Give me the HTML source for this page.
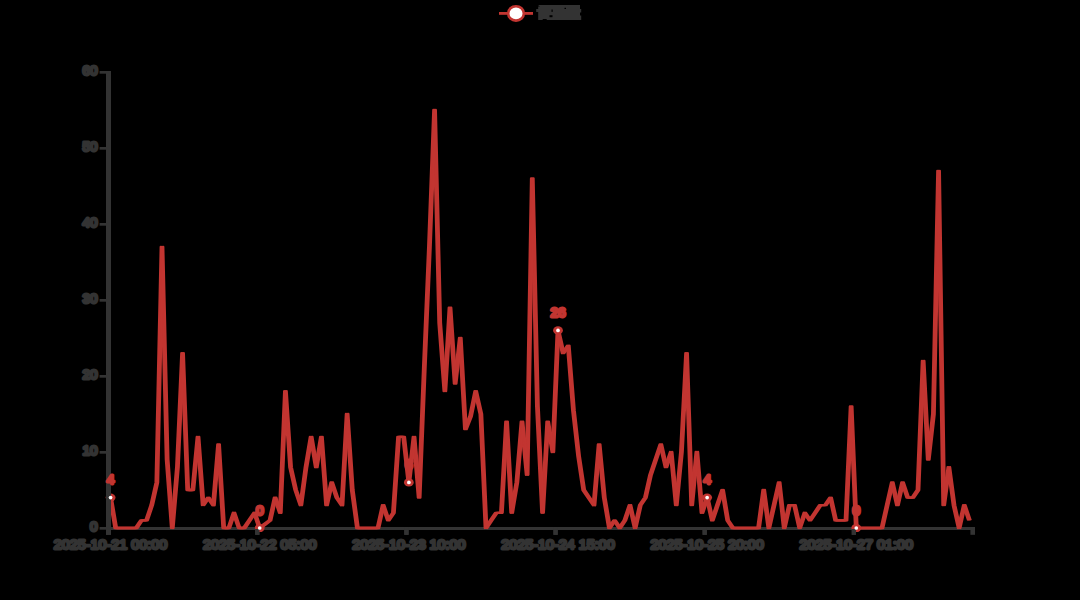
<!DOCTYPE html>
<html><head><meta charset="utf-8"><title>chart</title>
<style>html,body{margin:0;padding:0;background:#000;overflow:hidden}svg{display:block}text{font-family:"Liberation Sans",sans-serif;font-size:13.5px;stroke-linejoin:round;stroke-linecap:round}</style></head><body>
<svg width="1080" height="600" viewBox="0 0 1080 600">
<rect width="1080" height="600" fill="#000"/>
<g fill="#333333">
<rect x="106" y="71" width="5" height="463.8"/>
<rect x="106" y="527" width="869" height="3"/>
<rect x="255.14" y="527" width="4.3" height="7.8"/>
<rect x="404.29" y="527" width="4.3" height="7.8"/>
<rect x="553.43" y="527" width="4.3" height="7.8"/>
<rect x="702.57" y="527" width="4.3" height="7.8"/>
<rect x="851.71" y="527" width="4.3" height="7.8"/>
<rect x="970.4" y="527" width="4.6" height="7.8"/>
<rect x="99.6" y="527.00" width="7" height="2.7"/>
<rect x="99.6" y="451.00" width="7" height="2.7"/>
<rect x="99.6" y="375.00" width="7" height="2.7"/>
<rect x="99.6" y="299.00" width="7" height="2.7"/>
<rect x="99.6" y="223.00" width="7" height="2.7"/>
<rect x="99.6" y="147.00" width="7" height="2.7"/>
<rect x="99.6" y="71.00" width="7" height="2.7"/>
</g>
<g fill="#333333" stroke="#333333" stroke-width="3" text-anchor="end">
<text x="97.6" y="530.80">0</text>
<text x="97.6" y="454.80">10</text>
<text x="97.6" y="378.80">20</text>
<text x="97.6" y="302.80">30</text>
<text x="97.6" y="226.80">40</text>
<text x="97.6" y="150.80">50</text>
<text x="97.6" y="74.80">60</text>
</g>
<g fill="#333333" stroke="#333333" stroke-width="2.8" text-anchor="middle">
<text x="110.57" y="548.7" textLength="113.4" lengthAdjust="spacingAndGlyphs">2025-10-21 00:00</text>
<text x="259.71" y="548.7" textLength="113.4" lengthAdjust="spacingAndGlyphs">2025-10-22 05:00</text>
<text x="408.86" y="548.7" textLength="113.4" lengthAdjust="spacingAndGlyphs">2025-10-23 10:00</text>
<text x="558.00" y="548.7" textLength="113.4" lengthAdjust="spacingAndGlyphs">2025-10-24 15:00</text>
<text x="707.14" y="548.7" textLength="113.4" lengthAdjust="spacingAndGlyphs">2025-10-25 20:00</text>
<text x="856.29" y="548.7" textLength="113.4" lengthAdjust="spacingAndGlyphs">2025-10-27 01:00</text>
</g>
<polyline transform="translate(-1.25,0)" points="110.57,497.60 115.71,528.00 120.86,528.00 126.00,528.00 131.14,528.00 136.29,528.00 141.43,520.40 146.57,520.40 151.71,505.20 156.86,482.40 162.00,246.80 167.14,459.60 172.29,528.00 177.43,467.20 182.57,353.20 187.71,490.00 192.86,490.00 198.00,436.80 203.14,505.20 208.29,497.60 213.43,505.20 218.57,444.40 223.71,528.00 228.86,528.00 234.00,512.80 239.14,528.00 244.29,528.00 249.43,520.40 254.57,512.80 259.71,528.00 264.86,524.20 270.00,520.40 275.14,497.60 280.29,512.80 285.43,391.20 290.57,467.20 295.71,490.00 300.86,505.20 306.00,467.20 311.14,436.80 316.29,467.20 321.43,436.80 326.57,505.20 331.71,482.40 336.86,497.60 342.00,505.20 347.14,414.00 352.29,490.00 357.43,528.00 362.57,528.00 367.71,528.00 372.86,528.00 378.00,528.00 383.14,505.20 388.29,520.40 393.43,512.80 398.57,436.80 403.71,436.80 408.86,482.40 414.00,436.80 419.14,497.60 424.29,368.40 429.43,246.80 434.57,110.00 439.71,322.80 444.86,391.20 450.00,307.60 455.14,383.60 460.29,338.00 465.43,429.20 470.57,416.28 475.71,391.20 480.86,414.00 486.00,528.00 491.14,520.40 496.29,512.80 501.43,512.80 506.57,421.60 511.71,512.80 516.86,482.40 522.00,421.60 527.14,474.80 532.29,178.40 537.43,406.40 542.57,512.80 547.71,421.60 552.86,452.00 558.00,330.40 563.14,353.20 568.29,345.60 573.43,410.20 578.57,455.80 583.71,490.00 588.86,497.60 594.00,505.20 599.14,444.40 604.29,497.60 609.43,528.00 614.57,520.40 619.71,528.00 624.86,520.40 630.00,505.20 635.14,528.00 640.29,505.20 645.43,497.60 650.57,474.80 655.71,459.60 660.86,444.40 666.00,467.20 671.14,452.00 676.29,505.20 681.43,452.00 686.57,353.20 691.71,505.20 696.86,452.00 702.00,512.80 707.14,497.60 712.29,520.40 717.43,505.20 722.57,490.00 727.71,520.40 732.86,528.00 738.00,528.00 743.14,528.00 748.29,528.00 753.43,528.00 758.57,528.00 763.71,490.00 768.86,528.00 774.00,505.20 779.14,482.40 784.29,528.00 789.43,505.20 794.57,505.20 799.71,528.00 804.86,512.80 810.00,520.40 815.14,512.80 820.29,505.20 825.43,505.20 830.57,497.60 835.71,520.40 840.86,520.40 846.00,520.40 851.14,406.40 856.29,528.00 861.43,528.00 866.57,528.00 871.71,528.00 876.86,528.00 882.00,528.00 887.14,505.20 892.29,482.40 897.43,505.20 902.57,482.40 907.71,497.60 912.86,497.60 918.00,490.00 923.14,360.80 928.29,459.60 933.43,414.00 938.57,170.80 943.71,505.20 948.86,467.20 954.00,505.20 959.14,528.00 964.29,505.20 969.43,520.40" fill="none" stroke="#c23531" stroke-width="2.3" stroke-linejoin="round" stroke-linecap="butt"/>
<polyline transform="translate(0,0)" points="110.57,497.60 115.71,528.00 120.86,528.00 126.00,528.00 131.14,528.00 136.29,528.00 141.43,520.40 146.57,520.40 151.71,505.20 156.86,482.40 162.00,246.80 167.14,459.60 172.29,528.00 177.43,467.20 182.57,353.20 187.71,490.00 192.86,490.00 198.00,436.80 203.14,505.20 208.29,497.60 213.43,505.20 218.57,444.40 223.71,528.00 228.86,528.00 234.00,512.80 239.14,528.00 244.29,528.00 249.43,520.40 254.57,512.80 259.71,528.00 264.86,524.20 270.00,520.40 275.14,497.60 280.29,512.80 285.43,391.20 290.57,467.20 295.71,490.00 300.86,505.20 306.00,467.20 311.14,436.80 316.29,467.20 321.43,436.80 326.57,505.20 331.71,482.40 336.86,497.60 342.00,505.20 347.14,414.00 352.29,490.00 357.43,528.00 362.57,528.00 367.71,528.00 372.86,528.00 378.00,528.00 383.14,505.20 388.29,520.40 393.43,512.80 398.57,436.80 403.71,436.80 408.86,482.40 414.00,436.80 419.14,497.60 424.29,368.40 429.43,246.80 434.57,110.00 439.71,322.80 444.86,391.20 450.00,307.60 455.14,383.60 460.29,338.00 465.43,429.20 470.57,416.28 475.71,391.20 480.86,414.00 486.00,528.00 491.14,520.40 496.29,512.80 501.43,512.80 506.57,421.60 511.71,512.80 516.86,482.40 522.00,421.60 527.14,474.80 532.29,178.40 537.43,406.40 542.57,512.80 547.71,421.60 552.86,452.00 558.00,330.40 563.14,353.20 568.29,345.60 573.43,410.20 578.57,455.80 583.71,490.00 588.86,497.60 594.00,505.20 599.14,444.40 604.29,497.60 609.43,528.00 614.57,520.40 619.71,528.00 624.86,520.40 630.00,505.20 635.14,528.00 640.29,505.20 645.43,497.60 650.57,474.80 655.71,459.60 660.86,444.40 666.00,467.20 671.14,452.00 676.29,505.20 681.43,452.00 686.57,353.20 691.71,505.20 696.86,452.00 702.00,512.80 707.14,497.60 712.29,520.40 717.43,505.20 722.57,490.00 727.71,520.40 732.86,528.00 738.00,528.00 743.14,528.00 748.29,528.00 753.43,528.00 758.57,528.00 763.71,490.00 768.86,528.00 774.00,505.20 779.14,482.40 784.29,528.00 789.43,505.20 794.57,505.20 799.71,528.00 804.86,512.80 810.00,520.40 815.14,512.80 820.29,505.20 825.43,505.20 830.57,497.60 835.71,520.40 840.86,520.40 846.00,520.40 851.14,406.40 856.29,528.00 861.43,528.00 866.57,528.00 871.71,528.00 876.86,528.00 882.00,528.00 887.14,505.20 892.29,482.40 897.43,505.20 902.57,482.40 907.71,497.60 912.86,497.60 918.00,490.00 923.14,360.80 928.29,459.60 933.43,414.00 938.57,170.80 943.71,505.20 948.86,467.20 954.00,505.20 959.14,528.00 964.29,505.20 969.43,520.40" fill="none" stroke="#c23531" stroke-width="2.3" stroke-linejoin="round" stroke-linecap="butt"/>
<polyline transform="translate(1.25,0)" points="110.57,497.60 115.71,528.00 120.86,528.00 126.00,528.00 131.14,528.00 136.29,528.00 141.43,520.40 146.57,520.40 151.71,505.20 156.86,482.40 162.00,246.80 167.14,459.60 172.29,528.00 177.43,467.20 182.57,353.20 187.71,490.00 192.86,490.00 198.00,436.80 203.14,505.20 208.29,497.60 213.43,505.20 218.57,444.40 223.71,528.00 228.86,528.00 234.00,512.80 239.14,528.00 244.29,528.00 249.43,520.40 254.57,512.80 259.71,528.00 264.86,524.20 270.00,520.40 275.14,497.60 280.29,512.80 285.43,391.20 290.57,467.20 295.71,490.00 300.86,505.20 306.00,467.20 311.14,436.80 316.29,467.20 321.43,436.80 326.57,505.20 331.71,482.40 336.86,497.60 342.00,505.20 347.14,414.00 352.29,490.00 357.43,528.00 362.57,528.00 367.71,528.00 372.86,528.00 378.00,528.00 383.14,505.20 388.29,520.40 393.43,512.80 398.57,436.80 403.71,436.80 408.86,482.40 414.00,436.80 419.14,497.60 424.29,368.40 429.43,246.80 434.57,110.00 439.71,322.80 444.86,391.20 450.00,307.60 455.14,383.60 460.29,338.00 465.43,429.20 470.57,416.28 475.71,391.20 480.86,414.00 486.00,528.00 491.14,520.40 496.29,512.80 501.43,512.80 506.57,421.60 511.71,512.80 516.86,482.40 522.00,421.60 527.14,474.80 532.29,178.40 537.43,406.40 542.57,512.80 547.71,421.60 552.86,452.00 558.00,330.40 563.14,353.20 568.29,345.60 573.43,410.20 578.57,455.80 583.71,490.00 588.86,497.60 594.00,505.20 599.14,444.40 604.29,497.60 609.43,528.00 614.57,520.40 619.71,528.00 624.86,520.40 630.00,505.20 635.14,528.00 640.29,505.20 645.43,497.60 650.57,474.80 655.71,459.60 660.86,444.40 666.00,467.20 671.14,452.00 676.29,505.20 681.43,452.00 686.57,353.20 691.71,505.20 696.86,452.00 702.00,512.80 707.14,497.60 712.29,520.40 717.43,505.20 722.57,490.00 727.71,520.40 732.86,528.00 738.00,528.00 743.14,528.00 748.29,528.00 753.43,528.00 758.57,528.00 763.71,490.00 768.86,528.00 774.00,505.20 779.14,482.40 784.29,528.00 789.43,505.20 794.57,505.20 799.71,528.00 804.86,512.80 810.00,520.40 815.14,512.80 820.29,505.20 825.43,505.20 830.57,497.60 835.71,520.40 840.86,520.40 846.00,520.40 851.14,406.40 856.29,528.00 861.43,528.00 866.57,528.00 871.71,528.00 876.86,528.00 882.00,528.00 887.14,505.20 892.29,482.40 897.43,505.20 902.57,482.40 907.71,497.60 912.86,497.60 918.00,490.00 923.14,360.80 928.29,459.60 933.43,414.00 938.57,170.80 943.71,505.20 948.86,467.20 954.00,505.20 959.14,528.00 964.29,505.20 969.43,520.40" fill="none" stroke="#c23531" stroke-width="2.3" stroke-linejoin="round" stroke-linecap="butt"/>
<g>
<ellipse cx="110.57" cy="497.60" rx="4.9" ry="4.1" fill="#c23531"/>
<ellipse cx="259.71" cy="528.00" rx="4.9" ry="4.1" fill="#c23531"/>
<ellipse cx="408.86" cy="482.40" rx="4.9" ry="4.1" fill="#c23531"/>
<ellipse cx="558.00" cy="330.40" rx="4.9" ry="4.1" fill="#c23531"/>
<ellipse cx="707.14" cy="497.60" rx="4.9" ry="4.1" fill="#c23531"/>
<ellipse cx="856.29" cy="528.00" rx="4.9" ry="4.1" fill="#c23531"/>
<g fill="#333333"><rect x="106" y="71" width="5" height="463.8"/>
<rect x="255.14" y="529" width="4.3" height="5.8"/>
<rect x="404.29" y="529" width="4.3" height="5.8"/>
<rect x="553.43" y="529" width="4.3" height="5.8"/>
<rect x="702.57" y="529" width="4.3" height="5.8"/>
<rect x="851.71" y="529" width="4.3" height="5.8"/>
</g>
<circle cx="110.57" cy="497.60" r="1.85" fill="#fff"/>
<text x="110.57" y="484.30" text-anchor="middle" fill="#c23531" stroke="#c23531" stroke-width="3.1">4</text>
<circle cx="259.71" cy="528.00" r="1.85" fill="#fff"/>
<text x="259.71" y="514.70" text-anchor="middle" fill="#c23531" stroke="#c23531" stroke-width="3.1">0</text>
<circle cx="408.86" cy="482.40" r="1.85" fill="#fff"/>
<text x="408.86" y="469.10" text-anchor="middle" fill="#c23531" stroke="#c23531" stroke-width="3.1">6</text>
<circle cx="558.00" cy="330.40" r="1.85" fill="#fff"/>
<text x="558.00" y="317.10" text-anchor="middle" fill="#c23531" stroke="#c23531" stroke-width="3.1">26</text>
<circle cx="707.14" cy="497.60" r="1.85" fill="#fff"/>
<text x="707.14" y="484.30" text-anchor="middle" fill="#c23531" stroke="#c23531" stroke-width="3.1">4</text>
<circle cx="856.29" cy="528.00" r="1.85" fill="#fff"/>
<text x="856.29" y="514.70" text-anchor="middle" fill="#c23531" stroke="#c23531" stroke-width="3.1">0</text>
</g>
<rect x="499" y="12" width="34" height="2.8" fill="#c23531"/>
<ellipse cx="516" cy="13.4" rx="7.8" ry="7.2" fill="#fff" stroke="#c23531" stroke-width="2.6"/>
<path fill="#333333" d="M538 5h42v4h1.2v3.5h-1.2v3h1.2v4.5h-34.5v-1h-4v1h-4.5v-8h-2v-3h2v-2.5h1.8z"/>
<rect x="549.5" y="15.2" width="3" height="2" fill="#000"/><rect x="551.5" y="9.5" width="1.2" height="2.4" fill="#000"/><rect x="564.5" y="7.8" width="1.5" height="1.2" fill="#000"/>
</svg></body></html>
